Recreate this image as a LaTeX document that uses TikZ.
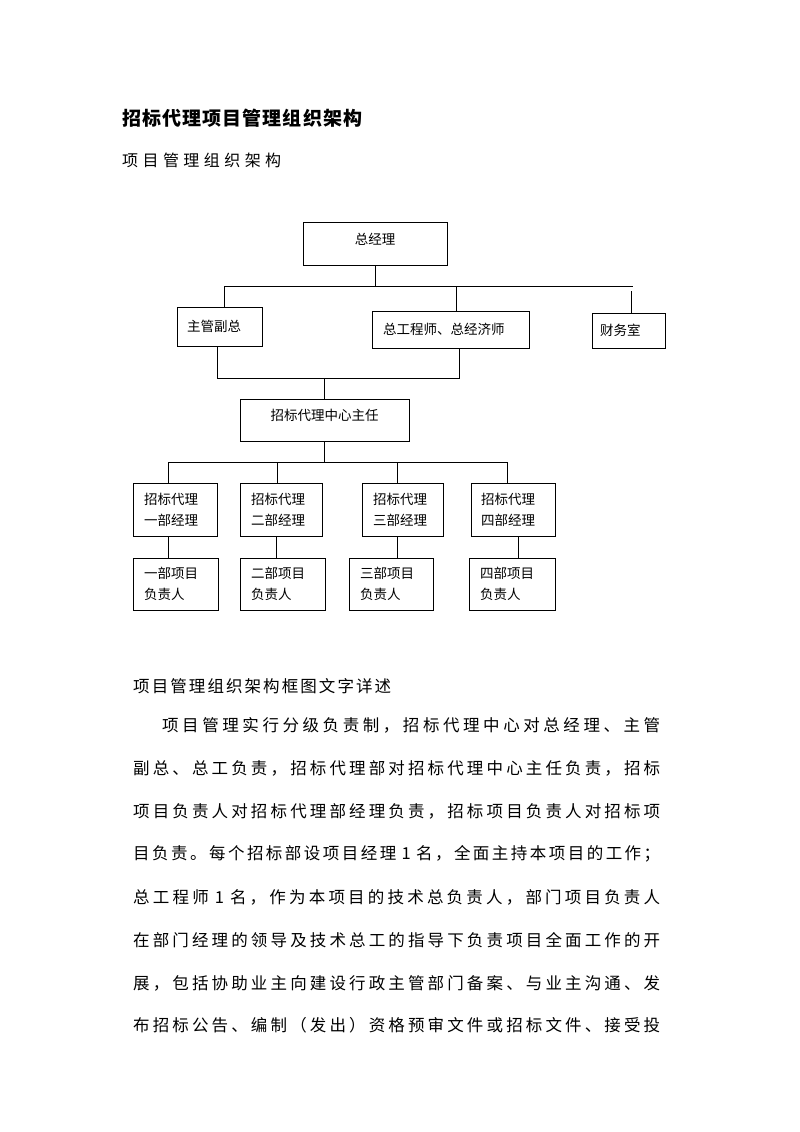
\documentclass[tikz,border=0pt]{standalone}
\usepackage{fontspec}
\newfontfamily\cjk{Noto Sans CJK SC}
\makeatletter
\def\jl@end{}
\def\jline#1#2{\hbox to #1{\jl@a#2\jl@end}}
\def\jl@a#1#2{#1\ifx#2\jl@end\else\hfil\expandafter\jl@a\expandafter#2\fi}
\makeatother
\newcommand\fwone{\hbox to 0.9em{\hss1\hss}}
\begin{document}
\begin{tikzpicture}[x=1pt,y=-1pt,
  box/.style={draw, line width=0.9pt, inner ysep=0pt, align=left,
              font=\cjk\fontsize{13.5}{21}\selectfont},
  cbox/.style={draw, line width=0.9pt, inner sep=0pt, align=center, text depth=9.5pt,
              font=\cjk\fontsize{13.5}{21}\selectfont},
  conn/.style={line width=0.9pt},
  ptext/.style={anchor=west, inner sep=0pt, font=\cjk\fontsize{16.5}{16.5}\selectfont}]
\useasboundingbox (0,0) rectangle (800,1132);

% headings
\node[anchor=west, inner sep=0pt, font=\cjk\bfseries\fontsize{19}{19}\selectfont] (title) at (122,118) {\jline{240pt}{招标代理项目管理组织架构}};
\node[anchor=west, inner sep=0pt, font=\cjk\fontsize{16}{16}\selectfont] (sub) at (122,160) {\jline{159pt}{项目管理组织架构}};

% chart boxes
\node[cbox, minimum width=144pt, minimum height=43pt] (gm) at (375,243.5) {总经理};
\node[box, minimum height=39pt, inner xsep=10pt, text width=65pt] (fg) at (219.5,326.5) {主管副总};
\node[box, minimum height=37pt, inner xsep=11pt, text width=135pt] (ze) at (450.5,329.5) {总工程师、总经济师};
\node[box, minimum height=35pt, inner xsep=8pt, text width=57pt] (cw) at (628.5,330.5) {财务室};
\node[cbox, minimum width=169pt, minimum height=42pt] (zx) at (324.5,420) {招标代理中心主任};

\node[box, minimum height=53pt, inner xsep=11pt, text width=62pt] (m1) at (175,509.5) {招标代理\\一部经理};
\node[box, minimum height=53pt, inner xsep=11pt, text width=60pt] (m2) at (281,509.5) {招标代理\\二部经理};
\node[box, minimum height=53pt, inner xsep=11pt, text width=59pt] (m3) at (402.5,509.5) {招标代理\\三部经理};
\node[box, minimum height=53pt, inner xsep=10pt, text width=64pt] (m4) at (513,509.5) {招标代理\\四部经理};

\node[box, minimum height=52pt, inner xsep=11pt, text width=63pt] (l1) at (175.5,584) {一部项目\\负责人};
\node[box, minimum height=52pt, inner xsep=11pt, text width=63pt] (l2) at (282.5,584) {二部项目\\负责人};
\node[box, minimum height=52pt, inner xsep=11pt, text width=62pt] (l3) at (391,584) {三部项目\\负责人};
\node[box, minimum height=52pt, inner xsep=11pt, text width=64pt] (l4) at (512,584) {四部项目\\负责人};

% connectors, level 1
\coordinate (bL) at (224,286);
\coordinate (bR) at (633,286);
\coordinate (bM) at (456,286);
\coordinate (cwT) at (631,291);
\draw[conn] (gm.south) -- (gm.south |- bL);
\draw[conn] (bL) -- (bR);
\draw[conn] (bL) -- (bL |- fg.north);
\draw[conn] (bM) -- (bM |- ze.north);
\draw[conn] (cwT) -- (cwT |- cw.north);

% level 2
\coordinate (cL) at (217,378);
\coordinate (cR) at (459,378);
\draw[conn] (cL |- fg.south) -- (cL) -- (cR) -- (cR |- ze.south);
\draw[conn] (zx.north |- cL) -- (zx.north);

% level 3
\coordinate (d1) at (168,462);
\coordinate (d2) at (277,462);
\coordinate (d3) at (397,462);
\coordinate (d4) at (507,462);
\draw[conn] (zx.south) -- (zx.south |- d1);
\draw[conn] (d1) -- (d4);
\draw[conn] (d1) -- (d1 |- m1.north);
\draw[conn] (d2) -- (d2 |- m2.north);
\draw[conn] (d3) -- (d3 |- m3.north);
\draw[conn] (d4) -- (d4 |- m4.north);

% level 4
\coordinate (e1) at (168,547);
\coordinate (e2) at (276,547);
\coordinate (e3) at (397,547);
\coordinate (e4) at (518,547);
\draw[conn] (e1 |- m1.south) -- (e1 |- l1.north);
\draw[conn] (e2 |- m2.south) -- (e2 |- l2.north);
\draw[conn] (e3 |- m3.south) -- (e3 |- l3.north);
\draw[conn] (e4 |- m4.south) -- (e4 |- l4.north);

% text
\node[anchor=west, inner sep=0pt, font=\cjk\fontsize{16.5}{16.5}\selectfont] (head) at (133,686) {\jline{258pt}{项目管理组织架构框图文字详述}};
\node[ptext] (p1) at (162,725) {\jline{498pt}{项目管理实行分级负责制，招标代理中心对总经理、主管}};
\node[ptext] (p2) at (133,768) {\jline{527pt}{副总、总工负责，招标代理部对招标代理中心主任负责，招标}};
\node[ptext] (p3) at (133,811) {\jline{527pt}{项目负责人对招标代理部经理负责，招标项目负责人对招标项}};
\node[ptext] (p4) at (133,854) {\jline{527pt}{目负责。每个招标部设项目经理\fwone 名，全面主持本项目的工作；}};
\node[ptext] (p5) at (133,897) {\jline{527pt}{总工程师\fwone 名，作为本项目的技术总负责人，部门项目负责人}};
\node[ptext] (p6) at (133,940) {\jline{527pt}{在部门经理的领导及技术总工的指导下负责项目全面工作的开}};
\node[ptext] (p7) at (133,983) {\jline{527pt}{展，包括协助业主向建设行政主管部门备案、与业主沟通、发}};
\node[ptext] (p8) at (133,1025) {\jline{527pt}{布招标公告、编制（发出）资格预审文件或招标文件、接受投}};
\end{tikzpicture}
\end{document}
